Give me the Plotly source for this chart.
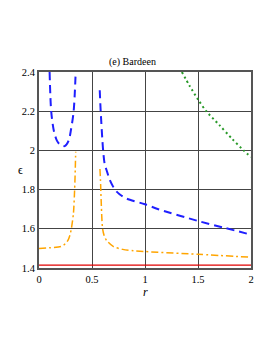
import plotly.graph_objects as go

# Blue dashed, two branches
blue1_r = [0.100, 0.115, 0.140, 0.169, 0.197, 0.242, 0.280, 0.300, 0.327, 0.346]
blue1_e = [2.40, 2.20, 2.10, 2.05, 2.03, 2.022, 2.05, 2.10, 2.20, 2.40]
blue2_r = [0.573, 0.582, 0.605, 0.621, 0.637, 0.668, 0.716, 0.760, 0.826, 1.00, 1.126, 1.50, 1.75, 2.00]
blue2_e = [2.307, 2.20, 2.00, 1.926, 1.90, 1.849, 1.80, 1.776, 1.754, 1.725, 1.70, 1.64, 1.605, 1.57]

# Orange dash-dot, two branches
orange1_r = [0.0, 0.10, 0.21, 0.25, 0.273, 0.290, 0.305, 0.325, 0.336, 0.342, 0.346]
orange1_e = [1.50, 1.503, 1.51, 1.525, 1.541, 1.565, 1.60, 1.68, 1.80, 1.90, 1.993]
orange2_r = [0.575, 0.580, 0.586, 0.600, 0.615, 0.637, 0.700, 0.790, 0.890, 1.00, 1.50, 2.00]
orange2_e = [1.905, 1.85, 1.75, 1.60, 1.565, 1.541, 1.51, 1.495, 1.488, 1.484, 1.47, 1.455]

# Red solid
red_r = [0.0, 2.0]
red_e = [1.415, 1.415]

# Green dotted
green_r = [1.348, 1.420, 1.505, 1.578, 1.700, 1.820, 1.930, 2.000]
green_e = [2.40, 2.33, 2.256, 2.20, 2.13, 2.06, 2.00, 1.966]

x_ticks = [0, 0.5, 1, 1.5, 2]
x_labels = ["0", "0.5", "1", "1.5", "2"]
y_ticks = [1.4, 1.6, 1.8, 2.0, 2.2, 2.4]
y_labels = ["1.4", "1.6", "1.8", "2", "2.2", "2.4"]

fig = go.Figure()
for r, e in [(blue1_r, blue1_e), (blue2_r, blue2_e)]:
    fig.add_trace(go.Scatter(x=r, y=e, mode="lines", line=dict(color="#1f1fff", width=2, dash="8px,5px", shape="spline", smoothing=0.8)))
for r, e in [(orange1_r, orange1_e), (orange2_r, orange2_e)]:
    fig.add_trace(go.Scatter(x=r, y=e, mode="lines", line=dict(color="#ffa500", width=1.5, dash="7px,3px,2px,3px", shape="spline", smoothing=0.8)))
fig.add_trace(go.Scatter(x=red_r, y=red_e, mode="lines", line=dict(color="#e00000", width=1.2)))
fig.add_trace(go.Scatter(x=green_r, y=green_e, mode="lines", line=dict(color="#2a9a2a", width=2, dash="2px,3px", shape="spline", smoothing=0.8)))

serif = "Liberation Serif, Times New Roman, DejaVu Serif, serif"
font = dict(family=serif, size=10.5, color="black")
fig.update_layout(
    width=265, height=345,
    margin=dict(l=31, r=22, t=64, b=85),
    paper_bgcolor="white", plot_bgcolor="white",
    showlegend=False,
    font=font,
    xaxis=dict(range=[0, 2], tickvals=x_ticks, ticktext=x_labels, showgrid=True,
               gridcolor="#444", gridwidth=1, showline=True, linecolor="#555", linewidth=2,
               mirror=True, zeroline=False, ticks="", tickfont=font),
    yaxis=dict(range=[1.4, 2.4], tickvals=y_ticks, ticktext=y_labels, showgrid=True,
               gridcolor="#444", gridwidth=1, showline=True, linecolor="#555", linewidth=2,
               mirror=True, zeroline=False, ticks="", tickfont=font),
    annotations=[
        dict(text="(e) Bardeen", xref="paper", yref="paper", x=0.443, y=1.0, yshift=2,
             xanchor="center", yanchor="bottom", showarrow=False, font=dict(family=serif, size=10, color="black")),
        dict(text="<i>r</i>", xref="paper", yref="paper", x=0.5, y=0, yshift=-15,
             xanchor="center", yanchor="top", showarrow=False, font=dict(family=serif, size=12, color="black")),
        dict(text="ϵ", xref="paper", yref="paper", x=0, y=0.5, xshift=-14,
             xanchor="right", yanchor="middle", showarrow=False, font=dict(family=serif, size=12, color="black")),
    ],
)
fig.write_html("out.html")
